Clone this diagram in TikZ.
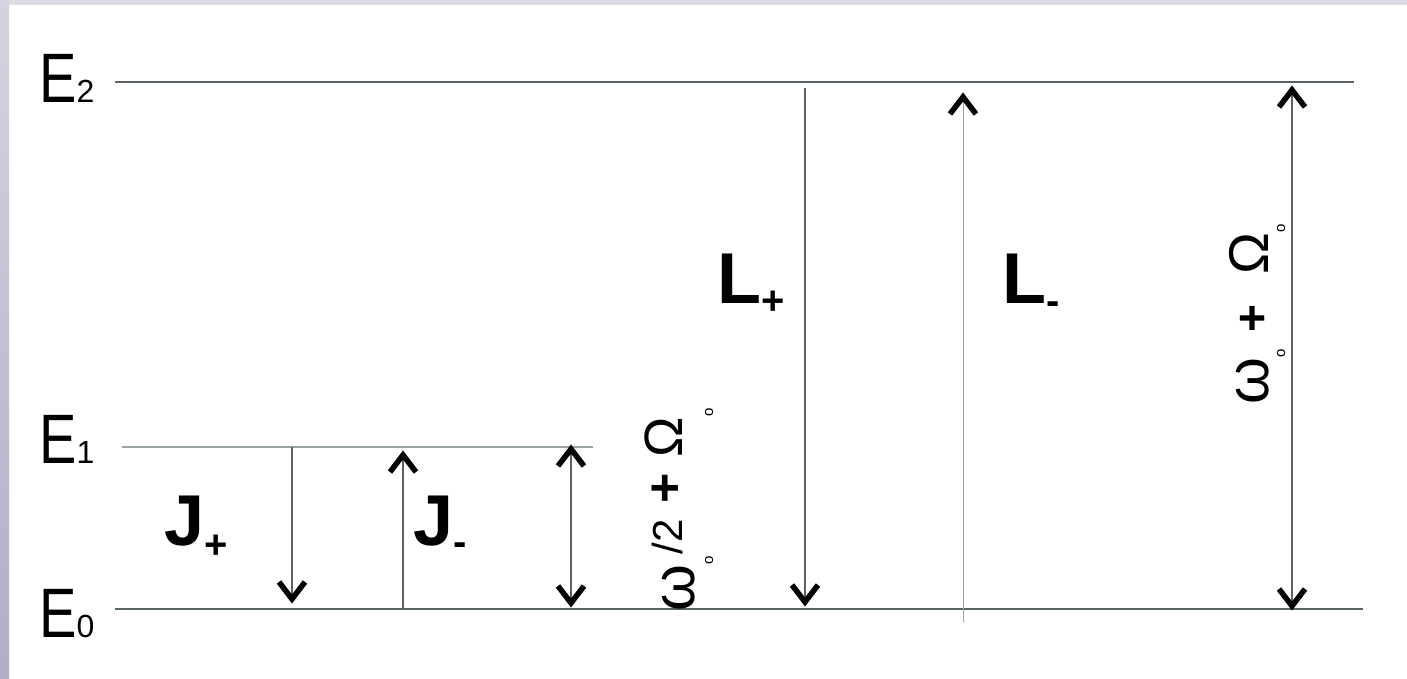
\documentclass[tikz,border=0pt]{standalone}
\usepackage{fontspec}
\setmainfont{Liberation Sans}
\definecolor{lvl}{HTML}{5A6464}
\definecolor{lvllight}{HTML}{9AA2A2}
\definecolor{bartop}{HTML}{D4D4E0}
\definecolor{barbot}{HTML}{AEAEC8}
\definecolor{topbar}{HTML}{DCDCE4}
\newcommand{\fs}[1]{\fontsize{#1}{#1}\selectfont}
\newcommand{\subo}[1]{\raisebox{-#1}{\fs{15}o}}
\newcommand{\Ebig}{\scalebox{0.8}[1]{E}}
\newcommand{\chevdown}[1]{\draw[chevstroke] ([shift={(-13,-17)}]#1) -- (#1) -- ([shift={(13,-17)}]#1);}
\newcommand{\chevup}[1]{\draw[chevstroke] ([shift={(-13,17)}]#1) -- (#1) -- ([shift={(13,17)}]#1);}
\tikzset{
  level/.style={draw=lvl,line width=2pt},
  levellight/.style={draw=lvllight,line width=1.2pt},
  shaft/.style={draw=lvl,line width=1.5pt},
  shaftlight/.style={draw=lvllight,line width=1pt},
  chevstroke/.style={draw=black,line width=5.5pt,line join=miter,line cap=butt},
  elabel/.style={inner sep=0pt,anchor=base west,font=\fs{70}},
  tlabel/.style={inner sep=0pt,anchor=base west,font=\fs{72}\bfseries},
  rlabel/.style={inner sep=0pt,anchor=base west,rotate=90},
}
\begin{document}
\begin{tikzpicture}[x=1pt,y=-1pt]
\useasboundingbox (0,0) rectangle (1407,679);
\fill[white] (0,0) rectangle (1407,679);
\shade[top color=bartop,bottom color=barbot] (0,0) rectangle (9,679);
\fill[topbar] (9,0) rectangle (1407,5);

% level coordinates
\coordinate (e2a) at (115,82);  \coordinate (e2b) at (1354,82);
\coordinate (e1a) at (122,447); \coordinate (e1b) at (593,447);
\coordinate (e0a) at (115,609); \coordinate (e0b) at (1363,609);

\draw[level] (e2a) -- (e2b);
\draw[levellight] (e1a) -- (e1b);
\draw[level] (e0a) -- (e0b);

% level labels
\node[elabel] (E2) at (39,103) {\Ebig{\fs{32}2}};
\node[elabel] (E1) at (39,463) {\Ebig{\fs{32}1}};
\node[elabel] (E0) at (39,637) {\Ebig{\fs{32}0}};

% arrow end points (apex of each chevron)
\coordinate (jp1) at (292,447); \coordinate (jp2) at (292,599);
\coordinate (jm1) at (403,609); \coordinate (jm2) at (403,455);
\coordinate (jd1) at (571,449); \coordinate (jd2) at (571,603);
\coordinate (lp1) at (805,88);  \coordinate (lp2) at (805,602);
\coordinate (lm1) at (963,622); \coordinate (lm2) at (963,97);
\coordinate (ld1) at (1292,90); \coordinate (ld2) at (1292,606);

\draw[shaft] (jp1) -- (jp2);      \chevdown{jp2}
\draw[shaft] (jm1) -- (jm2);      \chevup{jm2}
\draw[shaft] (jd1) -- (jd2);      \chevup{jd1} \chevdown{jd2}
\draw[level] (lp1) -- (lp2);      \chevdown{lp2}
\draw[shaftlight] (lm1) -- (lm2); \chevup{lm2}
\draw[shaft] (ld1) -- (ld2);      \chevup{ld1} \chevdown{ld2}

% transition labels
\node[tlabel] (Jp) at (164,545) {J\raisebox{-13pt}{\fs{40}+}};
\node[tlabel] (Jm) at (413,545) {J\raisebox{-10pt}{\fs{40}-}};
\node[tlabel] (Lp) at (717,303) {L\raisebox{-11pt}{\fs{40}+}};
\node[tlabel] (Lm) at (1002,303) {L\raisebox{-11pt}{\fs{40}-}};

% rotated energy labels
\node[rlabel] (wl) at (682,612) {\raisebox{-12pt}{\fs{60}ω}\subo{31pt}\kern2pt{\fs{42}/2}\kern16pt{\fs{52}\bfseries +}\kern16pt{\fs{54}Ω}\subo{31pt}};
\node[rlabel] (wr) at (1268,405) {{\fs{60}ω}\subo{17pt}\kern17pt{\fs{48}\bfseries +}\kern30pt{\fs{56}Ω}\subo{17pt}};
\end{tikzpicture}
\end{document}
